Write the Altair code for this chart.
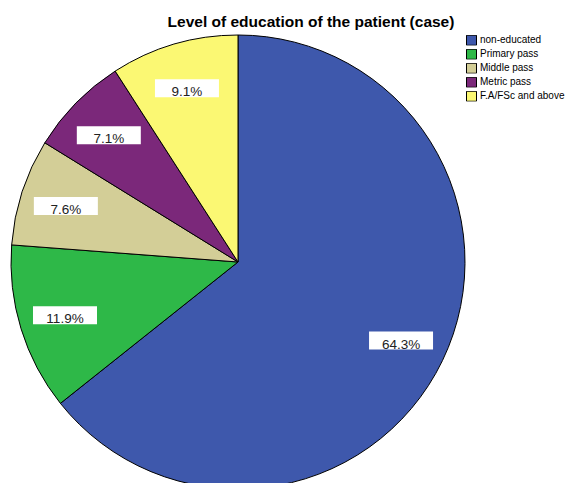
import altair as alt
import pandas as pd

# ---- data ----
categories = ["non-educated", "Primary pass", "Middle pass", "Metric pass", "F.A/FSc and above"]
percents = [64.3, 11.9, 7.6, 7.1, 9.1]
colors = ["#3E58AC", "#2EB848", "#D3CE97", "#7B287A", "#FBF873"]
title_text = "Level of education of the patient (case)"

df = pd.DataFrame({
    "category": categories,
    "value": percents,
    "order": list(range(len(categories))),
    "label": [f"{p:.1f}%" for p in percents],
})

# ---- layout constants (chart coordinates, page margin 8px) ----
CX, CY, R = 230, 254, 227
LR = 181          # label radius
BW, BH = 32, 9    # half box size
FONT = "Liberation Sans"

base = alt.Chart(df)

pie = base.mark_arc(radius=R, stroke="black", strokeWidth=1).encode(
    theta=alt.Theta("value:Q", stack=True),
    color=alt.Color(
        "category:N",
        scale=alt.Scale(domain=categories, range=colors),
        sort=categories,
        legend=alt.Legend(
            title=None, orient="none", legendX=458, legendY=27,
            symbolType="square", symbolSize=100, symbolStrokeColor="black",
            symbolStrokeWidth=1, labelFont=FONT, labelFontSize=10,
            labelColor="black", labelOffset=3, rowPadding=3, padding=0,
            clipHeight=10.5,
        ),
    ),
    order=alt.Order("order:Q"),
    x=alt.value(CX),
    y=alt.value(CY),
)

lab = base.transform_window(
    cum="sum(value)", sort=[alt.SortField("order")], frame=[None, 0]
).transform_joinaggregate(
    total="sum(value)"
).transform_calculate(
    ang="2*PI*(datum.cum - datum.value/2)/datum.total"
).transform_calculate(
    lx=f"{CX} + {LR}*sin(datum.ang)",
    ly=f"{CY} - {LR}*cos(datum.ang)",
).transform_calculate(
    bx1=f"datum.lx - {BW}", bx2=f"datum.lx + {BW}",
    by1=f"datum.ly - {BH}", by2=f"datum.ly + {BH}",
    ty=f"datum.ly + {BH} - 1",
)

boxes = lab.mark_rect(color="white").encode(
    x=alt.X("bx1:Q", scale=None, axis=None), x2="bx2:Q",
    y=alt.Y("by1:Q", scale=None, axis=None), y2="by2:Q",
)
texts = lab.mark_text(font=FONT, fontSize=13.5, color="#222", baseline="alphabetic").encode(
    x=alt.X("lx:Q", scale=None, axis=None),
    y=alt.Y("ty:Q", scale=None, axis=None),
    text="label:N",
)

title = alt.Chart(pd.DataFrame({"t": [title_text]})).mark_text(
    font=FONT, fontSize=15.5, fontWeight="bold", color="black", baseline="alphabetic"
).encode(text="t:N", x=alt.value(303), y=alt.value(18.5))

chart = alt.layer(pie, boxes, texts, title).properties(
    width=558, height=475, autosize="none", padding=0
).configure_view(stroke=None)

chart.save("out.html", embed_options={"renderer": "svg", "actions": False})
